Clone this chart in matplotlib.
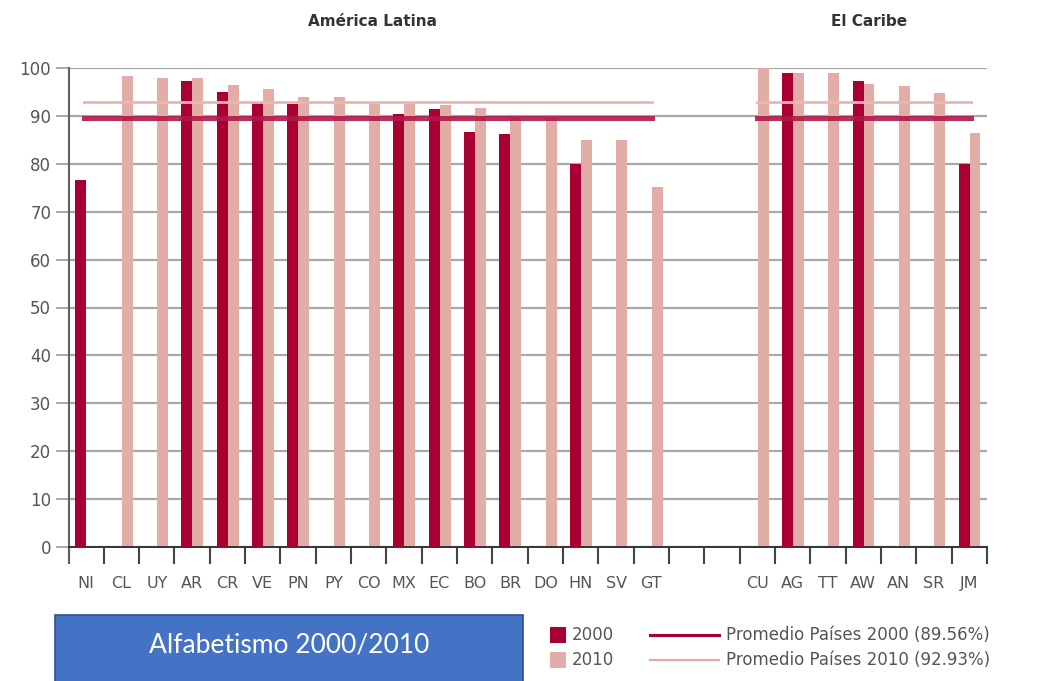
import numpy as np
import matplotlib.pyplot as plt
from matplotlib.patches import Rectangle
from matplotlib.lines import Line2D

# datos
paises = ['NI', 'CL', 'UY', 'AR', 'CR', 'VE', 'PN', 'PY', 'CO', 'MX', 'EC', 'BO', 'BR',
          'DO', 'HN', 'SV', 'GT', '', '', 'CU', 'AG', 'TT', 'AW', 'AN', 'SR', 'JM']
nan = np.nan
alf_2000 = [76.7, nan, nan, 97.3, 95.0, 92.8, 92.4, nan, nan, 90.5, 91.4, 86.6, 86.2,
            nan, 80.0, nan, nan, nan, nan, nan, 98.9, nan, 97.3, nan, nan, 80.0]
alf_2010 = [nan, 98.3, 97.9, 97.9, 96.4, 95.6, 94.0, 94.0, 93.0, 93.0, 92.3, 91.7, 89.8,
            89.6, 84.9, 84.9, 75.1, nan, nan, 99.9, 98.9, 98.9, 96.7, 96.3, 94.7, 86.5]
prom_2000 = 89.56
prom_2010 = 92.93

c2000 = '#A80033'
c2010 = '#E3ADA7'
gris = '#555555'

fig = plt.figure(figsize=(10.37, 6.81), dpi=100)
ax = fig.add_axes([68.5/1037, 1-547/681, (987-68.5)/1037, (547-68)/681])

x = np.arange(len(paises))
w = 0.31
ax.bar(x - 0.15, alf_2000, width=w, color=c2000, zorder=3)
ax.bar(x + 0.16, alf_2010, width=w, color=c2010, zorder=2)

# promedios (America Latina / Caribe)
for x0, x1 in [(-0.06, 16.03), (19.0, 25.04)]:
    ax.plot([x0, x1], [prom_2010, prom_2010], color='#EBB6B0', lw=2.0, zorder=4)
    ax.plot([x0, x1], [prom_2000, prom_2000], color='#B01848', lw=3.6, alpha=0.9, zorder=4)

ax.set_xlim(-0.5, 25.5)
ax.set_ylim(0, 100)
ax.set_yticks(np.arange(0, 101, 10))
ax.yaxis.grid(True, color='#A8A8A8', lw=1.6, zorder=0)
ax.set_axisbelow(True)
ax.tick_params(axis='y', length=9.5, width=1.4, color='#A8A8A8', labelsize=12,
               labelcolor=gris, pad=3)
for s in ['top', 'right']:
    ax.spines[s].set_visible(False)
ax.spines['left'].set_color('#606060')
ax.spines['left'].set_linewidth(1.5)
ax.spines['left'].set_bounds(-3.2, 100)
ax.spines['bottom'].set_color('#333333')
ax.spines['bottom'].set_linewidth(1.4)

ax.set_xticks(np.arange(-0.5, 26, 1))
ax.set_xticklabels([])
ax.tick_params(axis='x', which='major', length=12, width=1.5, color='#444444')
ax.set_xticks(x, labels=paises, minor=True)
ax.tick_params(axis='x', which='minor', length=0, pad=21, labelsize=11.5, labelcolor=gris)

fig.text(372/1037, 1-22/681, 'América Latina', ha='center', va='center',
         fontsize=11, fontweight='bold', color='#333333')
fig.text(869/1037, 1-22/681, 'El Caribe', ha='center', va='center',
         fontsize=11, fontweight='bold', color='#333333')

# cuadro azul
fig.add_artist(Rectangle((55/1037, -0.01), (523-55)/1037, (681-615)/681 + 0.01,
                         transform=fig.transFigure, facecolor='#4472C4',
                         edgecolor='#2F528F', lw=1.2))
fig.text(289/1037, 1-645/681, 'Alfabetismo 2000/2010', ha='center', va='center',
         fontsize=19, color='white', family='Lato')

# leyenda
for yy, col, lab, lw, txt in [(635, c2000, '2000', 2.2, 'Promedio Países 2000 (89.56%)'),
                              (660, c2010, '2010', 1.6, 'Promedio Países 2010 (92.93%)')]:
    fig.add_artist(Rectangle((550/1037, 1-(yy+8)/681), 16/1037, 16/681,
                             transform=fig.transFigure, facecolor=col, edgecolor='none'))
    fig.text(572/1037, 1-yy/681, lab, ha='left', va='center', fontsize=12, color=gris)
    fig.add_artist(Line2D([650/1037, 719/1037], [1-yy/681, 1-yy/681],
                          transform=fig.transFigure, color=col, lw=lw))
    fig.text(726/1037, 1-yy/681, txt, ha='left', va='center', fontsize=12, color=gris)

fig.savefig('out.png', dpi=100)
